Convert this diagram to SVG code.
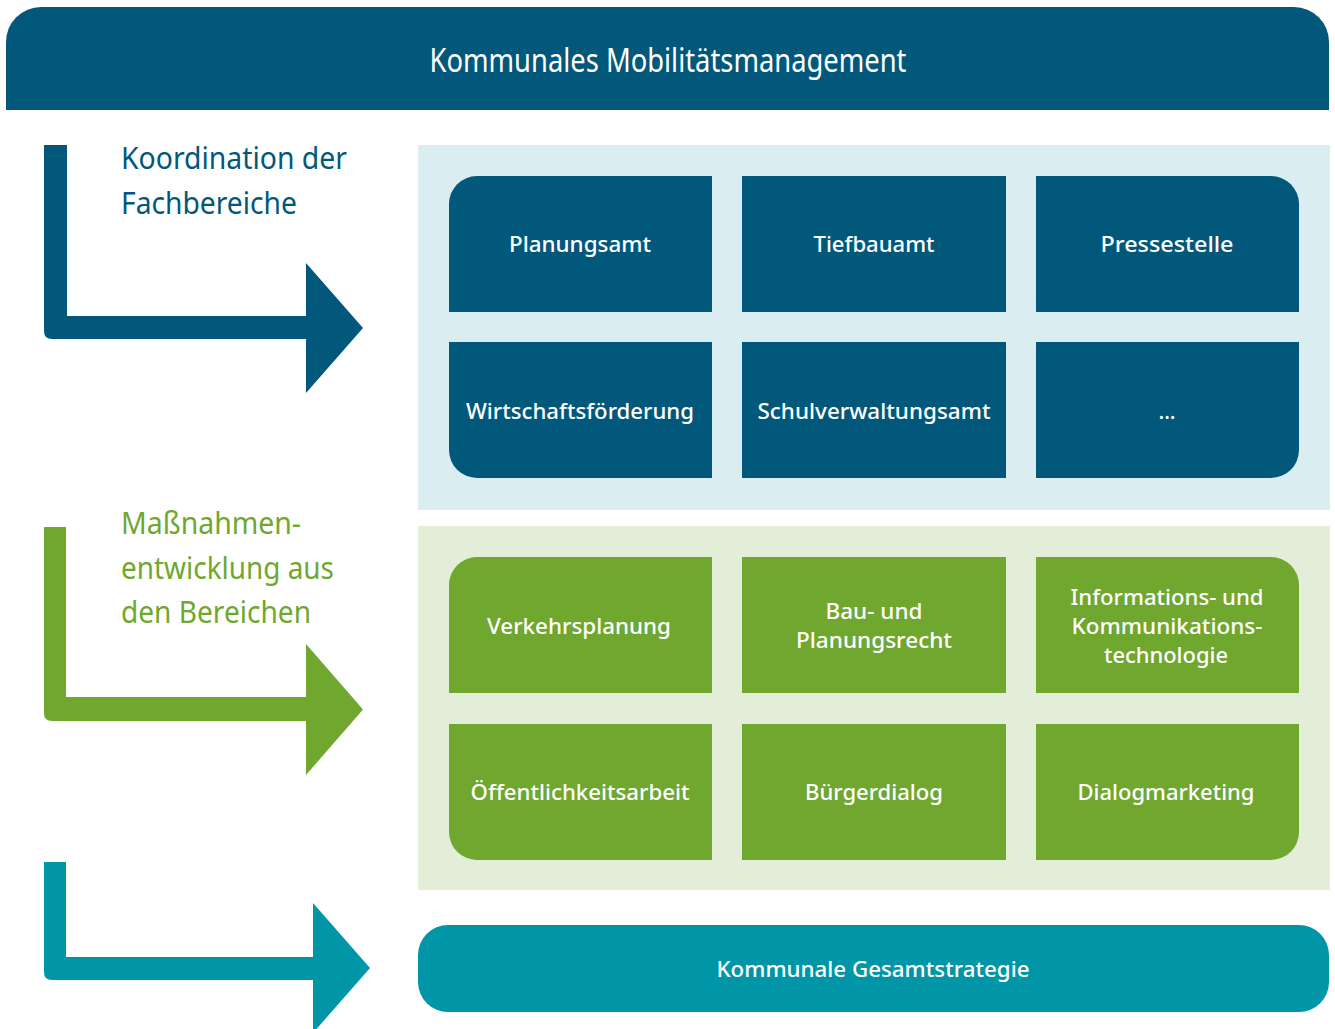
<svg xmlns="http://www.w3.org/2000/svg" width="1335" height="1029" viewBox="0 0 1335 1029">
<style>
.blue{fill:#02587a}
.green{fill:#6fa72f}
.teal{fill:#0096a7}
.bt{font-family:"Noto Sans","Liberation Sans",sans-serif;font-weight:500;font-size:21px;fill:#ffffff;text-anchor:middle}
.side{font-family:"Noto Sans","Liberation Sans",sans-serif;font-weight:400;font-size:30px}
</style>
<rect x="0" y="0" width="1335" height="1029" fill="#ffffff"/>
<g id="header">
<path class="blue" d="M6,110 V42 A35,35 0 0 1 41,7 H1294 A35,35 0 0 1 1329,42 V110 Z"/>
<text x="668" y="72" font-family="Noto Sans,Liberation Sans,sans-serif" font-size="33" fill="#ffffff" text-anchor="middle" textLength="477" lengthAdjust="spacingAndGlyphs">Kommunales Mobilitätsmanagement</text>
</g>
<g id="panel-blue"><rect x="418" y="145" width="912" height="365" fill="#daedf1"/></g>
<g id="panel-green"><rect x="418" y="526" width="912" height="364" fill="#e3eed9"/></g>
<g id="connectors">
<path class="blue" d="M44,145 H67 V316 H306 V263 L363,328 L306,393 V339 H52 Q44,339 44,331 Z"/>
<path class="green" d="M44,527 H66 V697 H306 V644 L363,709.5 L306,775 V721 H52 Q44,721 44,713 Z"/>
<path class="teal" d="M44,862 H66 V957 H313 V903 L370,968 L313,1033 V980 H52 Q44,980 44,972 Z"/>
</g>
<g id="label-koordination" class="side" fill="#02587a">
<text x="121" y="169" textLength="226" lengthAdjust="spacingAndGlyphs">Koordination der</text>
<text x="121" y="214" textLength="176" lengthAdjust="spacingAndGlyphs">Fachbereiche</text>
</g>
<g id="label-massnahmen" class="side" fill="#6fa72f">
<text x="121" y="534" textLength="180" lengthAdjust="spacingAndGlyphs">Maßnahmen-</text>
<text x="121" y="579" textLength="213" lengthAdjust="spacingAndGlyphs">entwicklung aus</text>
<text x="121" y="623" textLength="190" lengthAdjust="spacingAndGlyphs">den Bereichen</text>
</g>
<g id="planungsamt">
<path class="blue" d="M449,312 V204 A28,28 0 0 1 477,176 H712 V312 Z"/>
<text class="bt" x="580" y="252" textLength="142" lengthAdjust="spacingAndGlyphs">Planungsamt</text>
</g>
<g id="tiefbauamt">
<rect class="blue" x="742" y="176" width="264" height="136"/>
<text class="bt" x="874" y="252" textLength="121" lengthAdjust="spacingAndGlyphs">Tiefbauamt</text>
</g>
<g id="pressestelle">
<path class="blue" d="M1036,176 H1271 A28,28 0 0 1 1299,204 V312 H1036 Z"/>
<text class="bt" x="1167" y="252" textLength="133" lengthAdjust="spacingAndGlyphs">Pressestelle</text>
</g>
<g id="wirtschaftsfoerderung">
<path class="blue" d="M449,342 H712 V478 H477 A28,28 0 0 1 449,450 Z"/>
<text class="bt" x="580" y="419" textLength="228" lengthAdjust="spacingAndGlyphs">Wirtschaftsförderung</text>
</g>
<g id="schulverwaltungsamt">
<rect class="blue" x="742" y="342" width="264" height="136"/>
<text class="bt" x="874" y="419" textLength="233" lengthAdjust="spacingAndGlyphs">Schulverwaltungsamt</text>
</g>
<g id="weitere">
<path class="blue" d="M1036,342 H1299 V450 A28,28 0 0 1 1271,478 H1036 Z"/>
<text class="bt" x="1167" y="419">...</text>
</g>
<g id="verkehrsplanung">
<path class="green" d="M449,693 V585 A28,28 0 0 1 477,557 H712 V693 Z"/>
<text class="bt" x="579" y="634" textLength="184" lengthAdjust="spacingAndGlyphs">Verkehrsplanung</text>
</g>
<g id="bau-planungsrecht">
<rect class="green" x="742" y="557" width="264" height="136"/>
<text class="bt" x="874" y="619" textLength="97" lengthAdjust="spacingAndGlyphs">Bau- und</text>
<text class="bt" x="874" y="648" textLength="156" lengthAdjust="spacingAndGlyphs">Planungsrecht</text>
</g>
<g id="iuk">
<path class="green" d="M1036,557 H1271 A28,28 0 0 1 1299,585 V693 H1036 Z"/>
<text class="bt" x="1167" y="605" textLength="193" lengthAdjust="spacingAndGlyphs">Informations- und</text>
<text class="bt" x="1167" y="634" textLength="191" lengthAdjust="spacingAndGlyphs">Kommunikations-</text>
<text class="bt" x="1166" y="663" textLength="124" lengthAdjust="spacingAndGlyphs">technologie</text>
</g>
<g id="oeffentlichkeitsarbeit">
<path class="green" d="M449,724 H712 V860 H477 A28,28 0 0 1 449,832 Z"/>
<text class="bt" x="580" y="800" textLength="219" lengthAdjust="spacingAndGlyphs">Öffentlichkeitsarbeit</text>
</g>
<g id="buergerdialog">
<rect class="green" x="742" y="724" width="264" height="136"/>
<text class="bt" x="874" y="800" textLength="138" lengthAdjust="spacingAndGlyphs">Bürgerdialog</text>
</g>
<g id="dialogmarketing">
<path class="green" d="M1036,724 H1299 V832 A28,28 0 0 1 1271,860 H1036 Z"/>
<text class="bt" x="1166" y="800" textLength="177" lengthAdjust="spacingAndGlyphs">Dialogmarketing</text>
</g>
<g id="gesamtstrategie">
<rect class="teal" x="418" y="925" width="911" height="87" rx="30" ry="30"/>
<text class="bt" x="873" y="977" textLength="313" lengthAdjust="spacingAndGlyphs">Kommunale Gesamtstrategie</text>
</g>
</svg>
